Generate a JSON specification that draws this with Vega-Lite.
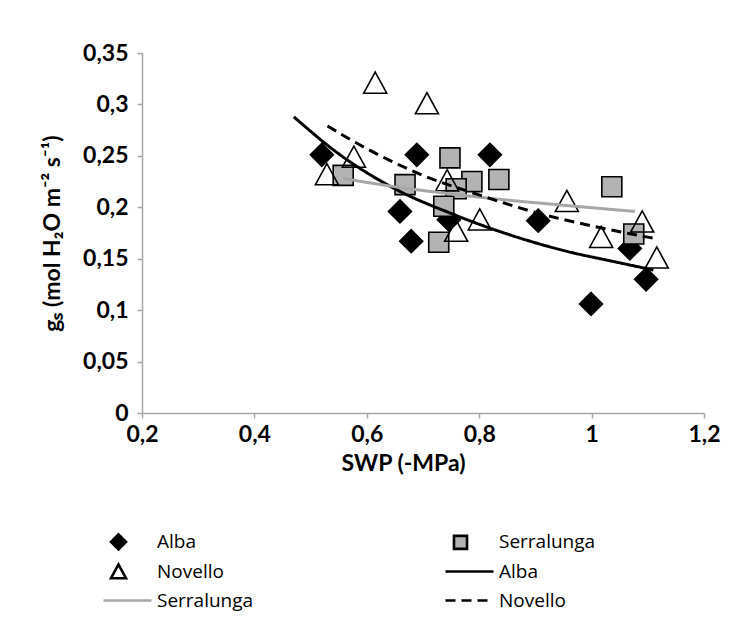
{
  "$schema": "https://vega.github.io/schema/vega-lite/v6.json",
  "autosize": {"type": "none"},
  "padding": {"left": 142, "top": 53, "right": 43, "bottom": 215},
  "width": 562,
  "height": 360,
  "background": "white",
  "datasets": {
    "points": [
      {"series": "Alba", "swp": 0.52, "gs": 0.251},
      {"series": "Alba", "swp": 0.689, "gs": 0.251},
      {"series": "Alba", "swp": 0.819, "gs": 0.251},
      {"series": "Alba", "swp": 0.659, "gs": 0.196},
      {"series": "Alba", "swp": 0.746, "gs": 0.188},
      {"series": "Alba", "swp": 0.679, "gs": 0.167},
      {"series": "Alba", "swp": 0.905, "gs": 0.187},
      {"series": "Alba", "swp": 1.068, "gs": 0.16},
      {"series": "Alba", "swp": 1.097, "gs": 0.13},
      {"series": "Alba", "swp": 0.999, "gs": 0.106},
      {"series": "Serralunga", "swp": 0.558, "gs": 0.231},
      {"series": "Serralunga", "swp": 0.668, "gs": 0.222},
      {"series": "Serralunga", "swp": 0.748, "gs": 0.248},
      {"series": "Serralunga", "swp": 0.787, "gs": 0.225},
      {"series": "Serralunga", "swp": 0.835, "gs": 0.227},
      {"series": "Serralunga", "swp": 0.759, "gs": 0.218},
      {"series": "Serralunga", "swp": 0.737, "gs": 0.201},
      {"series": "Serralunga", "swp": 0.728, "gs": 0.166},
      {"series": "Serralunga", "swp": 1.036, "gs": 0.22},
      {"series": "Serralunga", "swp": 1.075, "gs": 0.174},
      {"series": "Novello", "swp": 0.529, "gs": 0.232},
      {"series": "Novello", "swp": 0.577, "gs": 0.249},
      {"series": "Novello", "swp": 0.615, "gs": 0.321},
      {"series": "Novello", "swp": 0.707, "gs": 0.301},
      {"series": "Novello", "swp": 0.743, "gs": 0.226},
      {"series": "Novello", "swp": 0.759, "gs": 0.177},
      {"series": "Novello", "swp": 0.801, "gs": 0.188},
      {"series": "Novello", "swp": 0.956, "gs": 0.206},
      {"series": "Novello", "swp": 1.017, "gs": 0.171},
      {"series": "Novello", "swp": 1.09, "gs": 0.186},
      {"series": "Novello", "swp": 1.116, "gs": 0.151}
    ],
    "fits": [
      {"series": "Alba trend", "swp": 0.47, "gs": 0.288},
      {"series": "Alba trend", "swp": 0.55, "gs": 0.252},
      {"series": "Alba trend", "swp": 0.65, "gs": 0.218},
      {"series": "Alba trend", "swp": 0.75, "gs": 0.194},
      {"series": "Alba trend", "swp": 0.85, "gs": 0.174},
      {"series": "Alba trend", "swp": 0.95, "gs": 0.158},
      {"series": "Alba trend", "swp": 1.05, "gs": 0.146},
      {"series": "Alba trend", "swp": 1.11, "gs": 0.139},
      {"series": "Serralunga trend", "swp": 0.558, "gs": 0.228},
      {"series": "Serralunga trend", "swp": 0.65, "gs": 0.22},
      {"series": "Serralunga trend", "swp": 0.75, "gs": 0.213},
      {"series": "Serralunga trend", "swp": 0.85, "gs": 0.207},
      {"series": "Serralunga trend", "swp": 0.95, "gs": 0.202},
      {"series": "Serralunga trend", "swp": 1.077, "gs": 0.196},
      {"series": "Novello trend", "swp": 0.53, "gs": 0.279},
      {"series": "Novello trend", "swp": 0.6, "gs": 0.257},
      {"series": "Novello trend", "swp": 0.7, "gs": 0.231},
      {"series": "Novello trend", "swp": 0.8, "gs": 0.212},
      {"series": "Novello trend", "swp": 0.9, "gs": 0.195},
      {"series": "Novello trend", "swp": 1.0, "gs": 0.182},
      {"series": "Novello trend", "swp": 1.1, "gs": 0.171},
      {"series": "Novello trend", "swp": 1.115, "gs": 0.1695}
    ]
  },
  "encoding": {
    "x": {
      "field": "swp", "type": "quantitative",
      "scale": {"domain": [0.2, 1.2], "nice": false, "zero": false},
      "axis": {"title": "SWP (-MPa)", "values": [0.2, 0.4, 0.6, 0.8, 1.0, 1.2], "format": ".1~f", "grid": false,
        "domainColor": "#a6a6a6", "domainWidth": 1.5, "tickColor": "#a6a6a6", "tickWidth": 1.5, "tickSize": 5,
        "labelFont": "Lato", "labelFontSize": 23, "labelFontWeight": "bold", "labelColor": "black", "labelPadding": 5,
        "titleFont": "Lato", "titleFontSize": 23, "titleFontWeight": "bold", "titleColor": "black", "titlePadding": 6,
        "titleX": 261, "labelFlush": false}
    },
    "y": {
      "field": "gs", "type": "quantitative",
      "scale": {"domain": [0, 0.35], "nice": false, "zero": true},
      "axis": {"title": "gₛ (mol H₂O m⁻² s⁻¹)", "values": [0, 0.05, 0.1, 0.15, 0.2, 0.25, 0.3, 0.35], "format": ".2~f", "grid": false,
        "domainColor": "#a6a6a6", "domainWidth": 1.5, "tickColor": "#a6a6a6", "tickWidth": 1.5, "tickSize": 5,
        "labelFont": "Lato", "labelFontSize": 23, "labelFontWeight": "bold", "labelColor": "black", "labelPadding": 9,
        "titleFont": "Lato", "titleFontSize": 23, "titleFontWeight": "bold", "titleColor": "black", "titlePadding": 18, "labelFlush": false}
    }
  },
  "layer": [
    {
      "data": {"name": "points"},
      "mark": {"type": "point", "filled": true, "opacity": 1, "strokeWidth": 1.6, "size": 2116},
      "encoding": {
        "shape": {
          "field": "series", "type": "nominal",
          "scale": {"domain": ["Alba", "Serralunga", "Novello", "Alba trend", "Serralunga trend", "Novello trend"],
                    "range": ["M0,-0.5L0.5,0L0,0.5L-0.5,0Z", "M-0.435,-0.435H0.435V0.435H-0.435Z", "M0,-0.47L0.5,0.45L-0.5,0.45Z", "M-1,0H2.2", "M-1,0H2.2", "M-1,0H2.2"]},
          "legend": {
            "orient": "none", "legendX": -40, "legendY": 472, "columns": 2, "direction": "horizontal",
            "title": null, "padding": 0, "labelFont": "Open Sans", "labelFontSize": 19, "labelColor": "black",
            "columnPadding": 186, "rowPadding": -2, "labelOffset": 22, "symbolSize": 900, "symbolStrokeWidth": 2.6,
            "labelExpr": "replace(datum.label, ' trend', '')"
          }
        },
        "fill": {
          "field": "series", "type": "nominal",
          "scale": {"domain": ["Alba", "Serralunga", "Novello", "Alba trend", "Serralunga trend", "Novello trend"],
                    "range": ["black", "#b3b3b3", "transparent", "transparent", "transparent", "transparent"]}
        },
        "stroke": {
          "field": "series", "type": "nominal",
          "scale": {"domain": ["Alba", "Serralunga", "Novello", "Alba trend", "Serralunga trend", "Novello trend"],
                    "range": ["black", "black", "black", "black", "#a6a6a6", "black"]}
        }
      }
    },
    {
      "data": {"name": "fits"},
      "mark": {"type": "line", "strokeWidth": 3, "interpolate": "monotone"},
      "encoding": {
        "stroke": {"field": "series", "type": "nominal"},
        "strokeDash": {
          "field": "series", "type": "nominal",
          "scale": {"domain": ["Alba", "Serralunga", "Novello", "Alba trend", "Serralunga trend", "Novello trend"],
                    "range": [[1, 0], [1, 0], [1, 0], [1, 0], [1, 0], [10, 6]]}
        }
      }
    },
    {
      "data": {"values": [{"label": "10"}]},
      "mark": {"type": "text", "font": "Lato", "fontSize": 37, "fontWeight": "bold", "fill": "black", "align": "right", "baseline": "alphabetic"},
      "encoding": {
        "x": {"datum": 1.196},
        "y": {"datum": 0.311},
        "text": {"field": "label"}
      }
    }
  ],
  "config": {
    "view": {"stroke": null},
    "font": "Lato",
    "locale": {"number": {"decimal": ",", "thousands": ".", "grouping": [3], "currency": ["", " €"]}}
  }
}
